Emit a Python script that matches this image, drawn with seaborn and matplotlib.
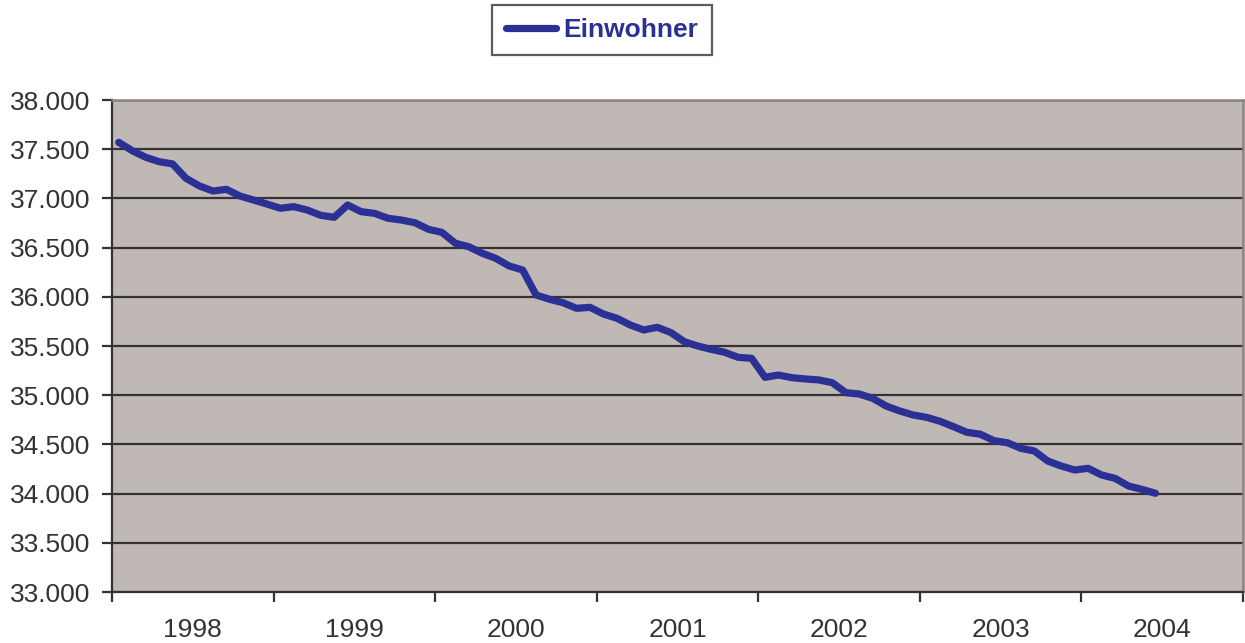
import matplotlib
matplotlib.use("Agg")
import matplotlib.pyplot as plt
import matplotlib.ticker as mticker
import seaborn as sns
import pandas as pd
import numpy as np

years = ["1998", "1999", "2000", "2001", "2002", "2003", "2004"]
einwohner = [
    37570, 37485, 37418, 37373, 37350, 37204, 37126, 37075, 37092, 37024, 36984, 36943,
    36900, 36916, 36882, 36828, 36808, 36933, 36865, 36848, 36798, 36780, 36753, 36686,
    36655, 36544, 36509, 36442, 36391, 36313, 36272, 36018, 35975, 35940, 35883, 35893,
    35825, 35782, 35713, 35663, 35690, 35637, 35544, 35500, 35466, 35436, 35385, 35375,
    35182, 35205, 35178, 35165, 35155, 35127, 35026, 35012, 34968, 34890, 34840, 34799,
    34775, 34735, 34680, 34623, 34603, 34538, 34517, 34460, 34433, 34331, 34280, 34240,
    34257, 34189, 34155, 34077, 34043, 34003,
]

df = pd.DataFrame({"monat": np.arange(len(einwohner)), "Einwohner": einwohner})

sns.set_theme(style="white")
plt.rcParams["font.family"] = ["Liberation Sans", "DejaVu Sans"]

text_col = "#333333"
line_col = "#2B3094"

fig = plt.figure(figsize=(12.45, 6.43), dpi=100)
ax = fig.add_axes([112 / 1245, 1 - 592 / 643, (1243 - 112) / 1245, (592 - 100) / 643])
ax.set_facecolor("#C0B8B5")

sns.lineplot(data=df, x="monat", y="Einwohner", ax=ax, color=line_col,
             linewidth=5.2, label="Einwohner", solid_joinstyle="round",
             solid_capstyle="round")

ax.set_xlim(-0.5, 12 * len(years) - 0.5)
ax.set_ylim(33000, 38000)

ax.yaxis.set_major_locator(mticker.MultipleLocator(500))
ax.yaxis.set_major_formatter(mticker.FuncFormatter(lambda v, p: f"{int(v):,}".replace(",", ".")))
ax.grid(axis="y", color="#333333", linewidth=1.6)
ax.grid(axis="x", visible=False)
ax.set_axisbelow(True)

major = [-0.5 + 12 * k for k in range(len(years) + 1)]
minor = [5.5 + 12 * k for k in range(len(years))]
ax.set_xticks(major)
ax.set_xticklabels([""] * len(major))
ax.set_xticks(minor, minor=True)
ax.set_xticklabels(years, minor=True)
ax.tick_params(axis="x", which="major", direction="out", length=7, width=1.6, color=text_col, bottom=True)
ax.tick_params(axis="x", which="minor", length=0, pad=18.5, labelsize=19, labelcolor=text_col)
ax.tick_params(axis="y", direction="out", length=7, width=1.6, color=text_col, left=True,
               pad=8.5, labelsize=19, labelcolor=text_col)

ax.set_xlabel("")
ax.set_ylabel("")

for s in ["left", "bottom"]:
    ax.spines[s].set_color("#333333")
    ax.spines[s].set_linewidth(1.6)
for s in ["top", "right"]:
    ax.spines[s].set_color("#8C8280")
    ax.spines[s].set_linewidth(1.8)

ax.legend_.remove()
handles, labels = ax.get_legend_handles_labels()
leg = fig.legend(handles, labels, loc="center", bbox_to_anchor=(602 / 1245, 1 - 30 / 643),
                 frameon=True, fancybox=False, handlelength=1.9, handletextpad=0.3,
                 borderpad=0.5, borderaxespad=0,
                 prop={"size": 19, "weight": "bold"})
leg.get_frame().set_edgecolor("#333333")
leg.get_frame().set_linewidth(1.6)
for t in leg.get_texts():
    t.set_color(line_col)

fig.savefig("out.png", dpi=100)
